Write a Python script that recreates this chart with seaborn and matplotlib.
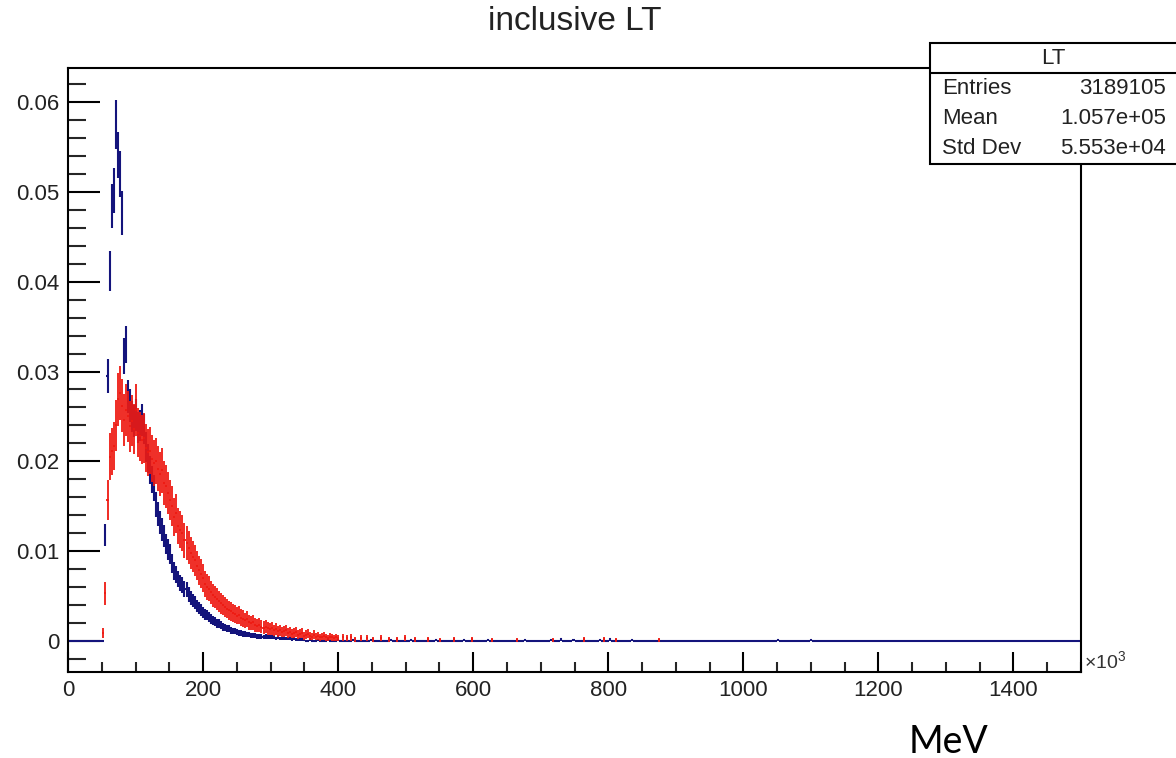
import numpy as np
import seaborn as sns
import matplotlib.pyplot as plt
from matplotlib.patches import Rectangle
from matplotlib.lines import Line2D
from matplotlib.ticker import MultipleLocator, FuncFormatter

# histogram binning (x in units of 10^3 MeV)
bin_width = 3
x_max = 1500
first_center = 52.5

# normalised bin contents, starting at first_center
blue_main = [
    0.0, 0.0118, 0.0295, 0.0412, 0.0484, 0.0502, 0.0575, 0.0541, 0.0520, 0.0476,
    0.0317, 0.0330, 0.0272, 0.0262, 0.0250, 0.0245, 0.0252, 0.0238, 0.0240, 0.0246,
    0.0236, 0.0216, 0.0203, 0.0190, 0.0180, 0.0170, 0.0152, 0.0141, 0.0132, 0.0124,
    0.0117, 0.0108, 0.0102, 0.0097, 0.0086, 0.0078, 0.0074, 0.0069, 0.0065, 0.0062,
    0.0058, 0.0057, 0.0052, 0.0048, 0.0045, 0.0043, 0.0039, 0.0037, 0.0035, 0.0032,
    0.0030, 0.0029, 0.0027, 0.0025, 0.0023, 0.0022, 0.0020, 0.0020, 0.0018, 0.0016,
    0.0015, 0.0014, 0.0014, 0.0012, 0.0011, 0.0011, 0.0010, 0.0009, 0.0009, 0.0008,
    0.0008, 0.0007, 0.0007, 0.0006, 0.0006, 0.0006, 0.0005, 0.0005, 0.0005, 0.0004,
    0.0005, 0.0004, 0.0004, 0.0004, 0.0004, 0.0003, 0.0004, 0.0003, 0.0003, 0.0003,
    0.0003, 0.0003, 0.0003, 0.0002, 0.0003, 0.0002, 0.0002, 0.0002, 0.0002, 0.0001,
]
red_main = [
    0.0009, 0.0053, 0.0157, 0.0205, 0.0211, 0.0217, 0.0240, 0.0269, 0.0276, 0.0262,
    0.0246, 0.0257, 0.0250, 0.0239, 0.0245, 0.0236, 0.0257, 0.0232, 0.0228, 0.0224,
    0.0226, 0.0215, 0.0210, 0.0212, 0.0203, 0.0198, 0.0200, 0.0192, 0.0186, 0.0190,
    0.0176, 0.0172, 0.0165, 0.0157, 0.0150, 0.0138, 0.0142, 0.0128, 0.0124, 0.0120,
    0.0112, 0.0109, 0.0104, 0.0098, 0.0094, 0.0090, 0.0084, 0.0079, 0.0075, 0.0070,
    0.0063, 0.0060, 0.0058, 0.0054, 0.0051, 0.0049, 0.0047, 0.0044, 0.0042, 0.0040,
    0.0038, 0.0036, 0.0034, 0.0033, 0.0031, 0.0030, 0.0028, 0.0029, 0.0026, 0.0025,
    0.0023, 0.0024, 0.0021, 0.0020, 0.0021, 0.0018, 0.0017, 0.0018, 0.0016, 0.0015,
    0.0016, 0.0014, 0.0013, 0.0014, 0.0012, 0.0013, 0.0011, 0.0012, 0.0010, 0.0011,
    0.0012, 0.0009, 0.0010, 0.0008, 0.0009, 0.0010, 0.0007, 0.0008, 0.0009, 0.0006,
    0.0007, 0.0008, 0.0006, 0.0005, 0.0007, 0.0005, 0.0006, 0.0004, 0.0005, 0.0006,
    0.0004, 0.0003, 0.0005, 0.0004, 0.0003, 0.0004, 0.0003,
]

# sparse tail bins (centre, content)
blue_tail_x = [358.5, 370.5, 385.5, 400.5, 421.5, 448.5, 478.5, 508.5, 544.5, 586.5,
               622.5, 676.5, 715.5, 730.5, 748.5, 787.5, 802.5, 835.5, 1051.5, 1099.5]
blue_tail_y = [0.0002, 0.0001, 0.0002, 0.0001, 0.0001, 0.0001, 0.0001, 0.0001, 0.0001, 0.0001,
               0.0001, 0.0001, 0.0001, 0.0002, 0.0001, 0.0001, 0.0002, 0.0001, 0.0001, 0.0001]
red_tail_x = [406.5, 412.5, 418.5, 424.5, 433.5, 442.5, 451.5, 463.5, 475.5, 487.5, 499.5, 514.5,
              532.5, 550.5, 571.5, 598.5, 628.5, 664.5, 718.5, 763.5, 793.5, 811.5, 874.5]
red_tail_y = [0.0004, 0.0003, 0.0004, 0.0002, 0.0003, 0.0003, 0.0002, 0.0003, 0.0002, 0.0002, 0.0003, 0.0002,
              0.0002, 0.0001, 0.0002, 0.0002, 0.0001, 0.0001, 0.0001, 0.0002, 0.0002, 0.0001, 0.0001]

# per-series normalisation (1/N_eff) used for the Poisson style error bars
blue_norm = 1.25e-4
red_norm = 3.3e-4

stats_rows = [("Entries", "3189105"), ("Mean", "1.057e+05"), ("Std Dev", "5.553e+04")]

BLUE = "#14147c"
RED = "#ee1a12"


def fill_bins(main, tail_x, tail_y):
    centers = np.arange(bin_width / 2, x_max, bin_width)
    vals = np.zeros_like(centers)
    i0 = int(round((first_center - bin_width / 2) / bin_width))
    vals[i0:i0 + len(main)] = main
    for cx, cy in zip(tail_x, tail_y):
        vals[int(cx // bin_width)] = cy
    return centers, vals


sns.set_theme(style="white")
plt.rcParams["font.family"] = ["Liberation Sans", "DejaVu Sans"]
plt.rcParams["mathtext.fontset"] = "custom"
plt.rcParams["mathtext.rm"] = "Liberation Sans"

W, H = 1176, 758
fig = plt.figure(figsize=(W / 100, H / 100), dpi=100)
fig.patch.set_facecolor("white")
ax = fig.add_axes([68 / W, (H - 672) / H, (1081 - 68) / W, (672 - 68) / H])
ax.set_facecolor("white")

bx, by = fill_bins(blue_main, blue_tail_x, blue_tail_y)
rx, ry = fill_bins(red_main, red_tail_x, red_tail_y)

# blue: every bin, so empty bins make the line at zero
ax.errorbar(bx, by, xerr=bin_width / 2, yerr=np.sqrt(by * blue_norm),
            fmt="none", ecolor=BLUE, elinewidth=1.5, capsize=0, zorder=2)
# red: filled bins only, drawn on top
m = ry > 0
ax.errorbar(rx[m], ry[m], xerr=bin_width / 2, yerr=np.sqrt(ry[m] * red_norm),
            fmt="none", ecolor=RED, elinewidth=1.3, capsize=0, zorder=3)

ax.set_xlim(0, 1500)
ax.set_ylim(-31 / 8983, (641 - 68) / 8983)

ax.xaxis.set_major_locator(MultipleLocator(200))
ax.xaxis.set_minor_locator(MultipleLocator(50))
ax.yaxis.set_major_locator(MultipleLocator(0.01))
ax.yaxis.set_minor_locator(MultipleLocator(0.002))
ax.yaxis.set_major_formatter(FuncFormatter(lambda v, _: "0" if abs(v) < 1e-9 else f"{v:.2f}"))
ax.xaxis.set_major_formatter(FuncFormatter(lambda v, _: f"{v:.0f}"))

ax.tick_params(axis="y", which="major", direction="in", length=23, width=1.5,
               pad=6, labelsize=16, colors="black", labelcolor="#222222", left=True, right=False)
ax.tick_params(axis="y", which="minor", direction="in", length=13, width=1.5, left=True, right=False)
ax.tick_params(axis="x", which="major", direction="in", length=14.5, width=1.5,
               pad=6, labelsize=16, colors="black", labelcolor="#222222", bottom=True, top=False)
ax.tick_params(axis="x", which="minor", direction="in", length=7.3, width=1.5, bottom=True, top=False)
for s in ax.spines.values():
    s.set_visible(True)
    s.set_color("black")
    s.set_linewidth(1.5)
ax.grid(False)

# x10^3 exponent label
fig.text(1084 / W, 1 - 662 / H, r"$\times10^{3}$", fontsize=14, color="#333333",
         ha="left", va="center")

# title
fig.text(575 / W, 1 - 22 / H, "inclusive LT", fontsize=24, color="#222222",
         ha="center", va="center")

# unit label
fig.text(948 / W, 1 - 742 / H, "MeV", fontsize=27, family=["Lato", "DejaVu Sans"],
         color="black", ha="center", va="center")

# stats box
box_top, box_bot, box_left = 43, 164, 930
fig.add_artist(Rectangle((box_left / W, 1 - box_bot / H), (W - box_left) / W + 0.01,
                         (box_bot - box_top) / H, transform=fig.transFigure,
                         facecolor="white", edgecolor="black", lw=1.5, zorder=10, clip_on=False))
fig.add_artist(Line2D([box_left / W, 1.0], [1 - 73 / H, 1 - 73 / H], transform=fig.transFigure,
                      color="black", lw=1.5, zorder=11))
fig.text(1053 / W, 1 - 59 / H, "LT", fontsize=16, color="#222222", ha="center", va="center", zorder=12)
for (name, val), yy in zip(stats_rows, [89, 119, 148]):
    fig.text(942 / W, 1 - yy / H, name, fontsize=16, color="#222222", ha="left", va="center", zorder=12)
    fig.text(1166 / W, 1 - yy / H, val, fontsize=16, color="#222222", ha="right", va="center", zorder=12)

fig.savefig("out.png", dpi=100)
